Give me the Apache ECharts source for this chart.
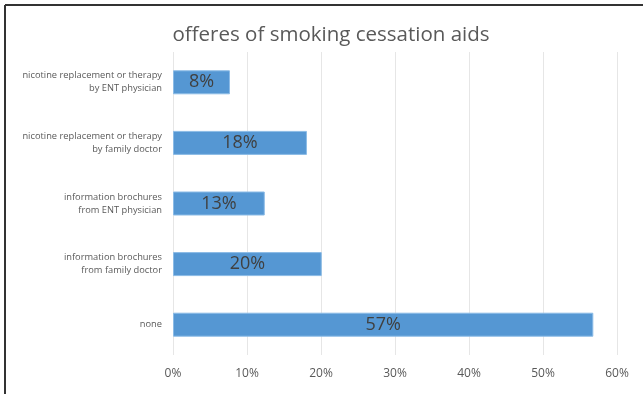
<!DOCTYPE html>
<html>
<head>
<meta charset="utf-8">
<script src="https://cdn.jsdelivr.net/npm/echarts@6/dist/echarts.min.js"></script>
<style>html,body{margin:0;padding:0;background:#fff;}#c{width:643px;height:394px;}</style>
</head>
<body>
<div id="c"></div>
<script>
var categories = [
  "nicotine replacement or therapy\nby ENT physician",
  "nicotine replacement or therapy\nby family doctor",
  "information brochures\nfrom ENT physician",
  "information brochures\nfrom family doctor",
  "none"
];
var values = [7.7, 18.1, 12.4, 20.1, 56.8];
var valueLabels = ["8%", "18%", "13%", "20%", "57%"];
var tickMax = 60;
var tickStep = 10;
var titleText = "offeres of smoking cessation aids";

var chart = echarts.init(document.getElementById('c'), null, {renderer: 'canvas'});
chart.setOption({
  animation: false,
  backgroundColor: '#fff',
  title: {
    text: titleText,
    left: 326, top: 20, textAlign: 'center',
    textStyle: {fontFamily: 'Open Sans', fontSize: 20.5, fontWeight: 'normal', color: '#595959'}
  },
  graphic: [
    {type: 'line', shape: {x1: 5, y1: 5, x2: 643, y2: 5}, style: {stroke: '#333', lineWidth: 2}},
    {type: 'line', shape: {x1: 5, y1: 5, x2: 5, y2: 394}, style: {stroke: '#333', lineWidth: 2}}
  ],
  grid: {left: 173, right: 26, top: 52, bottom: 39, containLabel: false},
  xAxis: {
    type: 'value', min: 0, max: tickMax, interval: tickStep,
    axisLine: {show: false}, axisTick: {show: false},
    splitLine: {lineStyle: {color: '#e6e6e6', width: 1}},
    axisLabel: {formatter: '{value}%', color: '#595959', fontFamily: 'Open Sans', fontSize: 12, margin: 13}
  },
  yAxis: {
    type: 'category', data: categories, inverse: true,
    axisLine: {show: false}, axisTick: {show: false},
    axisLabel: {color: '#595959', fontFamily: 'Open Sans', fontSize: 9.3, lineHeight: 13, margin: 11, align: 'right'}
  },
  series: [{
    type: 'bar', data: values, barWidth: 24,
    itemStyle: {color: '#5597d3', borderColor: '#8bbbe6', borderWidth: 1},
    label: {
      show: true, position: 'inside',
      formatter: function(p){ return valueLabels[p.dataIndex]; },
      color: '#404040', fontFamily: 'Open Sans', fontSize: 18
    }
  }]
});
</script>
</body>
</html>
